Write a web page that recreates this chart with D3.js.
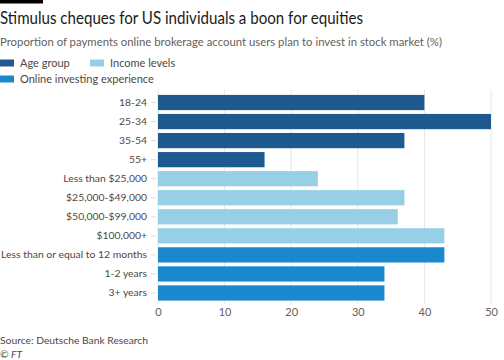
<!DOCTYPE html>
<html><head><meta charset="utf-8">
<script src="https://cdn.jsdelivr.net/npm/d3@7"></script>
<style>
body{margin:0;background:#fff;}
svg{display:block;font-family:Lato,"Noto Sans",sans-serif;}
</style></head>
<body><svg id="c" width="504" height="360"></svg>
<script>
const categories = ["18-24","25-34","35-54","55+","Less than $25,000","$25,000-$49,000","$50,000-$99,000","$100,000+","Less than or equal to 12 months","1-2 years","3+ years"];
const values = [40,50,37,16,24,37,36,43,43,34,34];
const groups = ["Age group","Age group","Age group","Age group","Income levels","Income levels","Income levels","Income levels","Online investing experience","Online investing experience","Online investing experience"];
const groupNames = ["Age group","Income levels","Online investing experience"];
const groupColors = ["#1f5a8e","#96cfe6","#1a88cd"];
const xTicks = [0,10,20,30,40,50];

const FONT = "Lato,\"Noto Sans\",sans-serif";
const svg = d3.select("#c");
const color = d3.scaleOrdinal().domain(groupNames).range(groupColors);
const x = d3.scaleLinear().domain([0,50]).range([158,491]);
const y = d3.scaleBand().domain(categories).range([93,302.5]).paddingInner(0.2).paddingOuter(0.1);

// top bar
svg.append("rect").attr("x",0).attr("y",0).attr("width",43).attr("height",3.5).attr("fill","#000");
svg.append("text").attr("x",0).attr("y",24).attr("font-size",17).attr("fill","#1a1a1a")
  .attr("textLength",363).attr("lengthAdjust","spacingAndGlyphs")
  .text("Stimulus cheques for US individuals a boon for equities");
svg.append("text").attr("x",0).attr("y",45.5).attr("font-size",12).attr("fill","#66605c")
  .attr("textLength",442).attr("lengthAdjust","spacingAndGlyphs")
  .text("Proportion of payments online brokerage account users plan to invest in stock market (%)");

// legend
const legPos = [[0,63],[90,63],[0,79]];
groupNames.forEach((g,i)=>{
  const [lx,ly] = legPos[i];
  svg.append("rect").attr("x",lx).attr("y",ly-3.5).attr("width",14).attr("height",7).attr("fill",color(g));
  svg.append("text").attr("x",lx+20).attr("y",ly+4).attr("font-size",11).attr("fill","#4d4845").text(g);
});

// grid
svg.append("g").selectAll("line").data(xTicks).join("line")
  .attr("x1",d=>x(d)).attr("x2",d=>x(d)).attr("y1",90).attr("y2",304)
  .attr("stroke","#e6e6e6").attr("stroke-width",1);

// bars
svg.append("g").selectAll("rect").data(categories).join("rect")
  .attr("x",x(0)).attr("y",d=>y(d))
  .attr("width",(d,i)=>x(values[i])-x(0))
  .attr("height",y.bandwidth())
  .attr("fill",(d,i)=>color(groups[i]));

// y axis
const ya = svg.append("g").attr("transform",`translate(${x(0)-2},0)`)
  .call(d3.axisLeft(y).tickSize(5).tickPadding(4));
ya.select(".domain").remove();
ya.selectAll("line").attr("stroke","#e8d8d4");
ya.selectAll("text").attr("font-size",10.4).attr("fill","#4d4845").attr("font-family",FONT);

// x axis
const xa = svg.append("g").attr("transform",`translate(0,304)`)
  .call(d3.axisBottom(x).tickValues(xTicks).tickSize(0).tickPadding(4));
xa.select(".domain").remove();
xa.selectAll("text").attr("font-size",11).attr("fill","#66605c").attr("font-family",FONT);

svg.append("text").attr("x",0).attr("y",344).attr("font-size",10.3).attr("fill","#4d4845").text("Source: Deutsche Bank Research");
svg.append("text").attr("x",0).attr("y",358).attr("font-size",10.3).attr("font-style","italic").attr("fill","#4d4845").text("© FT");
</script></body></html>
